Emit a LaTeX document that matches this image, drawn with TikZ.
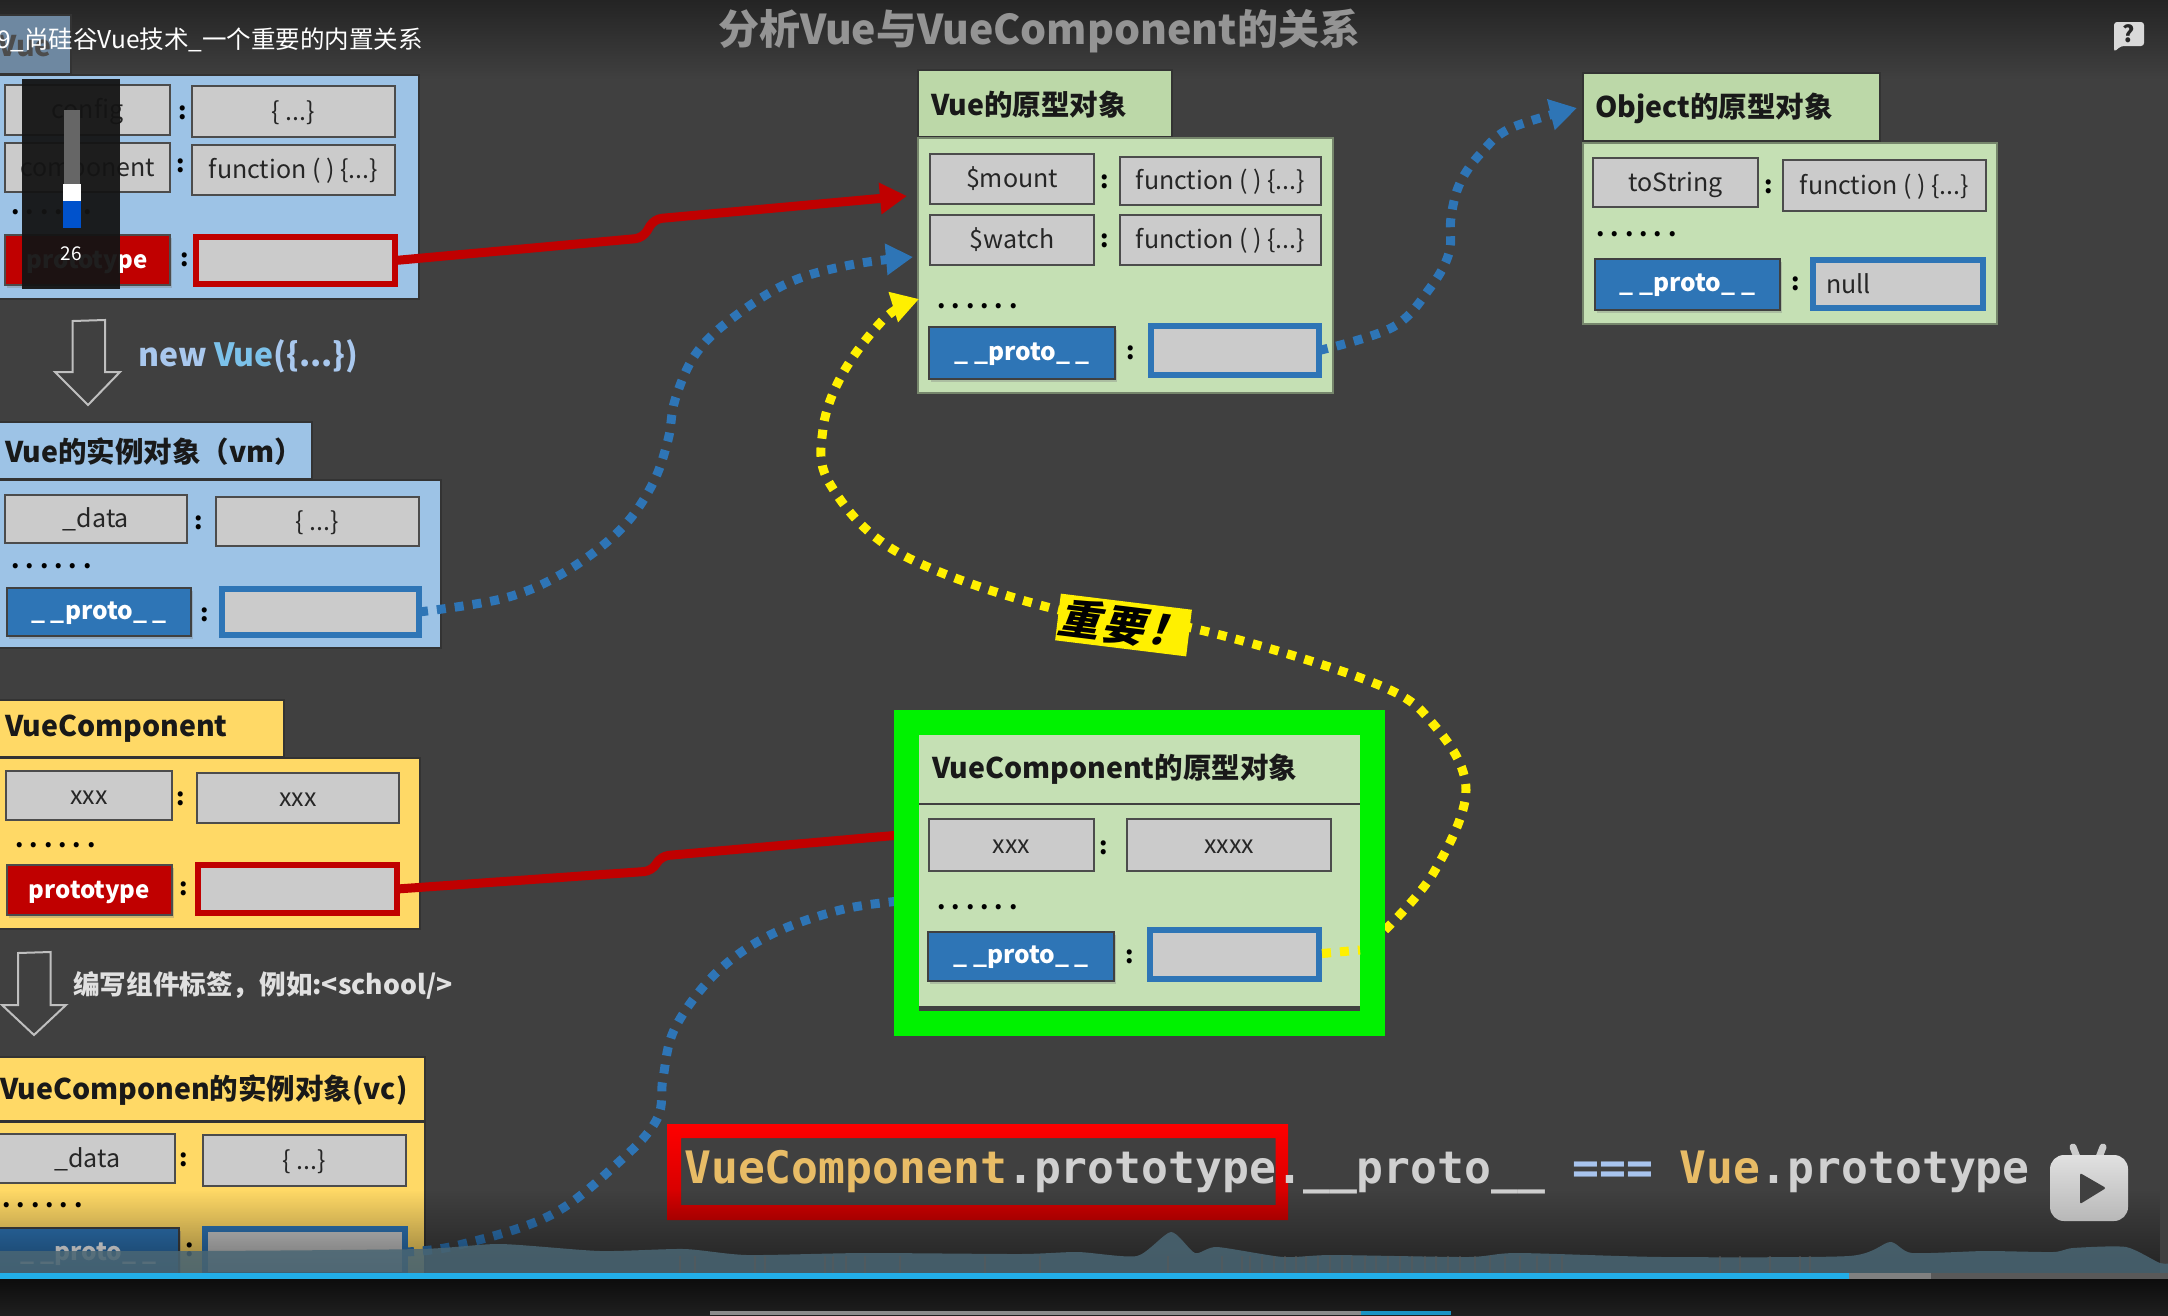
\documentclass[tikz,border=0pt]{standalone}
\usepackage{fontspec}
\setmainfont{Noto Sans CJK SC}
\newfontfamily\monof{DejaVu Sans Mono}
\newfontfamily\slantf[FakeSlant=0.25]{Noto Sans CJK SC}
\usetikzlibrary{arrows.meta,shadows,fadings,calc}
\definecolor{bgc}{HTML}{404040}
\definecolor{bluebody}{HTML}{9DC3E6}
\definecolor{yelbody}{HTML}{FFD966}
\definecolor{grnbody}{HTML}{C5E0B4}
\definecolor{grntab}{HTML}{BCD8A8}
\definecolor{boxg}{HTML}{CBCBCB}
\definecolor{redk}{HTML}{C00000}
\definecolor{bluek}{HTML}{2E75B6}
\definecolor{nvc}{HTML}{A9C8EE}
\definecolor{vvc}{HTML}{7CC2EA}
\definecolor{orgc}{HTML}{E8BC66}
\definecolor{txtg}{HTML}{D0D0D0}
\definecolor{eqc}{HTML}{A8C4EE}
\definecolor{wavec}{HTML}{4A6674}
\definecolor{progc}{HTML}{22AEE8}
\definecolor{yelc}{HTML}{FFF000}
\tikzset{
  x=1pt,y=-1pt,
  base/.style={rectangle,inner sep=0pt,outer sep=0pt},
  panel/.style={base,draw=black!80,line width=1.5pt},
  bluep/.style={panel,fill=bluebody},
  yelp/.style={panel,fill=yelbody},
  grnp/.style={panel,fill=grnbody,draw=grnbody!60!black},
  grntabp/.style={panel,fill=grntab},
  greybox/.style={base,fill=boxg,draw=black!70,line width=2pt,font=\fontsize{25}{28}\selectfont,text=black!85,text height=17pt,text depth=0pt},
  redkey/.style={base,fill=redk,draw=black!70,line width=2pt,text=white,font=\fontsize{24}{26}\selectfont\bfseries,text height=16pt,text depth=0pt,drop shadow={shadow xshift=2pt,shadow yshift=-3pt,opacity=.35}},
  bluekey/.style={base,fill=bluek,draw=black!75,line width=2pt,text=white,font=\fontsize{24.5}{26}\selectfont\bfseries,text height=14pt,text depth=0pt,drop shadow={shadow xshift=2pt,shadow yshift=-3pt,opacity=.35}},
  redval/.style={base,fill=boxg,draw=redk,line width=6pt},
  blueval/.style={base,fill=boxg,draw=bluek,line width=6pt},
  headtxt/.style={anchor=west,inner sep=0pt,font=\fontsize{28.5}{32}\selectfont\bfseries,text=black!90},
  colonn/.style={inner sep=0pt,yshift=-3pt,font=\fontsize{24}{26}\selectfont\bfseries,text=black},
  dotsn/.style={anchor=west,inner sep=0pt,yshift=-8pt,font=\fontsize{24}{26}\selectfont\bfseries,text=black},
  hollow/.style={draw=white!75!black,line width=2pt,fill=bgc,line join=miter},
  redline/.style={draw=redk,line width=9pt,line join=round},
  redarrow/.style={redline,-{Triangle[length=27pt,width=30pt]}},
  bluedot/.style={draw=bluek,line width=9pt,dash pattern=on 9pt off 9pt},
  bluearrow/.style={bluedot,-{Triangle[length=27pt,width=30pt]}},
  yeldot/.style={draw=yelc,line width=9pt,dash pattern=on 9pt off 9pt},
  yelarrow/.style={yeldot,-{Triangle[length=27pt,width=30pt]}},
}
\newcommand{\bx}[7]{%
  \pgfmathsetmacro{\bxw}{#4-#2}\pgfmathsetmacro{\bxh}{#5-#3}%
  \pgfmathsetmacro{\bxx}{(#4+#2)/2}\pgfmathsetmacro{\bxy}{(#5+#3)/2}%
  \node[#6,minimum width=\bxw pt,minimum height=\bxh pt] (#1) at (\bxx,\bxy) {#7};}
\newcommand{\sixdots}{.\kern6pt.\kern6pt.\kern6pt.\kern6pt.\kern6pt.}
\begin{document}
\begin{tikzpicture}
\useasboundingbox (0,0) rectangle (2168,1315);
\clip (0,0) rectangle (2168,1315);
% background
\fill[bgc] (0,0) rectangle (2168,1315);
\shade[top color=black!62!bgc!95!white,bottom color=bgc,shading angle=0] (0,0) rectangle (2168,80);

% connector ends
\coordinate (tipA) at (907,196);
\coordinate (tipB) at (913,257);
\coordinate (tipC) at (1577,108);
\coordinate (tipY) at (919,299);
\coordinate (endR) at (900,835);
\coordinate (endB) at (900,901);

% Vue function panel
\bx{vueTab}{-10}{15}{71}{74}{bluep,fill=bluebody!70!black}{}
\node[headtxt,anchor=east,text=black!70] (vueTabT) at (52,46) {Vue};
\bx{vueBody}{-10}{75}{419}{299}{bluep}{}
\bx{cfgK}{5}{85}{170}{135}{greybox}{config}
\bx{cfgV}{192}{86}{395}{137}{greybox}{\{ ...\}}
\bx{cmpK}{5}{143}{170}{192}{greybox}{component}
\bx{cmpV}{192}{145}{395}{195}{greybox}{function ( ) \{...\}}
\node[colonn] (c1) at (183,110) {:};
\node[colonn] (c2) at (181,163) {:};
\node[dotsn] (d1) at (11,204) {\sixdots};
\bx{protK}{5}{235}{170}{285}{redkey}{prototype}
\bx{protV}{196}{237}{395}{284}{redval}{}
\node[colonn] (c3) at (185,257) {:};

% Vue instance panel
\bx{vmTab}{-10}{422}{312}{479}{bluep}{}
\node[headtxt] (vmTabT) at (5,452) {Vue的实例对象（vm）};
\bx{vmBody}{-10}{480}{441}{648}{bluep}{}
\bx{dataK}{5}{495}{187}{543}{greybox}{\_data}
\bx{dataV}{216}{497}{419}{546}{greybox}{\{ ...\}}
\node[colonn] (c4) at (199,520) {:};
\node[dotsn] (d2) at (11,558) {\sixdots};
\bx{vmPK}{7}{588}{191}{636}{bluekey}{\_ \_proto\_ \_}
\bx{vmPV}{222}{589}{419}{635}{blueval}{}
\node[colonn] (c5) at (205,612) {:};

% VueComponent panel
\bx{vcfTab}{-10}{700}{284}{757}{yelp}{}
\node[headtxt] (vcfTabT) at (5,729) {VueComponent};
\bx{vcfBody}{-10}{758}{420}{929}{yelp}{}
\bx{xK}{6}{771}{172}{820}{greybox}{xxx}
\bx{xV}{197}{773}{399}{823}{greybox}{xxx}
\node[colonn] (c6) at (181,796) {:};
\node[dotsn] (d3) at (15,837) {\sixdots};
\bx{vcfPK}{7}{865}{172}{915}{redkey}{prototype}
\bx{vcfPV}{198}{865}{397}{913}{redval}{}
\node[colonn] (c7) at (184,886) {:};

% Vc instance panel
\bx{vcTab}{-10}{1057}{425}{1121}{yelp}{}
\node[headtxt] (vcTabT) at (0,1090) {VueComponen的实例对象(vc)};
\bx{vcBody}{-10}{1122}{425}{1285}{yelp}{}
\bx{vdK}{-10}{1134}{175}{1183}{greybox}{\kern10pt\_data}
\bx{vdV}{203}{1135}{406}{1186}{greybox}{\{ ...\}}
\node[colonn] (c8) at (184,1157) {:};
\node[dotsn] (d4) at (2,1197) {\sixdots};
\bx{vcPK}{-10}{1228}{179}{1278}{bluekey}{\kern8pt\_ \_proto\_ \_}
\bx{vcPV}{205}{1229}{405}{1275}{blueval}{}
\node[colonn] (c9) at (190,1247) {:};

% hollow arrows and captions
\draw[hollow] (72.5,321) -- (105,320) -- (105,372) -- (120,372) -- (88,405) -- (55,372) -- (72.5,372) -- cycle;
\node[anchor=west,inner sep=0pt,font=\fontsize{32}{34}\selectfont\bfseries] (newT) at (138,356)
  {{\color{nvc}new }{\color{vvc}Vue}{\color{nvc}(\{...\})}};
\draw[hollow] (18,953) -- (50.5,952) -- (50.5,1005) -- (66,1005) -- (34,1035) -- (2,1005) -- (18,1005) -- cycle;
\node[anchor=west,inner sep=0pt,font=\fontsize{26.6}{28}\selectfont\bfseries,text=white!88!black] (tagT) at (73,985) {编写组件标签，例如:<school/>};

% Vue prototype panel
\bx{vpTab}{918}{70}{1172}{137}{grntabp}{}
\node[headtxt] (vpTabT) at (931,105) {Vue的原型对象};
\bx{vpBody}{918}{138}{1333}{393}{grnp}{}
\bx{mntK}{930}{154}{1094}{204}{greybox}{\$mount}
\bx{mntV}{1120}{157}{1321}{205}{greybox}{function ( ) \{...\}}
\bx{wchK}{930}{215}{1094}{265}{greybox}{\$watch}
\bx{wchV}{1120}{215}{1321}{265}{greybox}{function ( ) \{...\}}
\node[colonn] (c10) at (1104.5,179) {:};
\node[colonn] (c11) at (1104.5,238) {:};
\node[dotsn] (d5) at (937,298) {\sixdots};
\bx{vpPK}{929}{327}{1115}{379}{bluekey}{\_ \_proto\_ \_}
\bx{vpPV}{1151}{326}{1319}{375}{blueval}{}
\node[colonn] (c12) at (1131,350) {:};

% Object prototype panel
\bx{opTab}{1583}{73}{1880}{141}{grntabp}{}
\node[headtxt] (opTabT) at (1595,108) {Object的原型对象};
\bx{opBody}{1583}{143}{1997}{324}{grnp}{}
\bx{tsK}{1593}{158}{1758}{207}{greybox}{toString}
\bx{tsV}{1783}{160}{1986}{211}{greybox}{function ( ) \{...\}}
\node[colonn] (c13) at (1768.5,184) {:};
\node[dotsn] (d6) at (1596,226) {\sixdots};
\bx{opPK}{1595}{259}{1780}{310}{bluekey}{\_ \_proto\_ \_}
\bx{opPV}{1813}{260}{1983}{308}{blueval}{}
\node[anchor=west,inner sep=0pt,font=\fontsize{25}{28}\selectfont,text=black!85] (nullT) at (1826,284) {null};
\node[colonn] (c14) at (1796,281) {:};

% long connectors
\draw[redarrow,rounded corners=8pt] (protV.east) -- (643,238) -- (654,219) -- (tipA);
\draw[redline,rounded corners=8pt] (vcfPV.east) -- (652,871) -- (661,856) -- (endR);
\draw[bluearrow] plot[smooth,tension=.6] coordinates {(vmPV.east) (505,598) (565,572) (620,530) (652,485) (668,440) (675,400) (695,355) (730,320) (788,283) (850,265) (tipB)};
\draw[bluedot] plot[smooth,tension=.6] coordinates {(vcPV.east) (459,1245) (551,1215) (620,1161) (657,1119) (663,1078) (675,1028) (716,973) (770,935) (840,910) (endB)};
\draw[bluearrow] plot[smooth,tension=.6] coordinates {(vpPV.east) (1393,327) (1430,288) (1449,253) (1451,217) (1460,183) (1481,153) (1511,128) (tipC)};
\coordinate (yStart) at (1385,930);
\draw[yelarrow] plot[smooth,tension=.6] coordinates {(yStart) (1434,872) (1466,790) (1434,725) (1374,683) (1196,629) (1051,608) (899,553) (830,484) (823,429) (843,373) (885,318) (tipY)};

% green highlighted panel
\bx{gFrame}{894}{710}{1385}{1036}{base,fill=green!95!black}{}
\bx{gBody}{919}{735}{1360}{1006}{base,fill=grnbody}{}
\fill[black!75] (gBody.south west) rectangle ([yshift=-5pt]gBody.south east);
\draw[black!75,line width=2pt] (919,804) -- (1360,804);
\node[headtxt] (gT) at (932,769) {VueComponent的原型对象};
\bx{gxK}{929}{819}{1094}{871}{greybox}{xxx}
\bx{gxV}{1127}{819}{1331}{871}{greybox}{xxxx}
\node[colonn] (c15) at (1104,845) {:};
\node[dotsn] (d7) at (937,899) {\sixdots};
\bx{gPK}{928}{932}{1114}{981}{bluekey}{\_ \_proto\_ \_}
\bx{gPV}{1150}{930}{1319}{979}{blueval}{}
\node[colonn] (c16) at (1130,954) {:};
\draw[yeldot] (gPV.east) ++(3,-1) -- (1360,950);

% label on the yellow connector
\node[base,fill=yelc,minimum width=132pt,minimum height=47pt,rotate=-7,font=\slantf\fontsize{42}{44}\selectfont\bfseries] (imp) at (1123.5,625) {重\kern3pt 要\kern3pt ！};

% formula
\shade[top color=red,bottom color=red!78!black,even odd rule] (667,1124) rectangle (1288,1220) (681,1138) rectangle (1275.5,1205);
\node[anchor=west,inner sep=0pt,font=\monof\bfseries\fontsize{44.7}{46}\selectfont] (formula) at (684,1172)
  {{\color{orgc}VueComponent}{\color{txtg}.prototype.\_\_proto\_\_} {\color{eqc}===} {\color{orgc}Vue}{\color{txtg}.prototype}};

% video player chrome
\node[anchor=center,inner sep=0pt,font=\fontsize{41}{43}\selectfont\bfseries,text=white!58!black] (mainT) at (1039,31) {分析Vue与VueComponent的关系};
\node[anchor=west,inner sep=0pt,font=\fontsize{24.5}{26}\selectfont,text=white] (vidT) at (-3,40) {9\_尚硅谷Vue技术\_一个重要的内置关系};
% bottom dimming
\fill[black,path fading=north,fill opacity=.45] (0,1190) rectangle (2168,1273);
% waveform
\fill[wavec,fill opacity=.85] plot[smooth,tension=.4] coordinates {(-5,1251) (200,1251) (420,1249) (500,1244) (600,1251) (684,1249) (747,1255) (864,1253) (1020,1254) (1078,1252) (1137,1256) (1171,1232) (1195,1253) (1217,1247) (1283,1257) (1332,1255) (1468,1257) (1517,1253) (1663,1257) (1849,1256) (1890,1242) (1912,1253) (1985,1251) (2053,1252) (2073,1248) (2126,1247) (2160,1263) (2175,1263)} -- (2175,1274) -- (-5,1274) -- cycle;
\foreach \sx in {680,695,755,765,825,833,846,865,900,985,1040,1168,1222,1242,1250,1262,1274,1285,1296,1306,1318,1330,1342,1352,1365,1376,1388,1400,1412,1425,1436,1448,1460,1475,1490,1505,1520,1537,1550,1562,1720,1740,1770,1800,1810}
  \draw[black!65,line width=1.5pt,opacity=.55] (\sx,1256) -- (\sx,1273);
\fill[white!35!black] (1849,1273) rectangle (2168,1279);
\fill[white!50!black] (1849,1273) rectangle (1931,1279);
\fill[progc] (0,1273) rectangle (1849,1279);
\shade[top color=black!95,bottom color=black!88] (0,1279) rectangle (2168,1315);
\fill[white!55!black] (710,1311) rectangle (1361,1315);
\fill[progc!85!black] (1361,1311) rectangle (1451,1315);
% play logo
\draw[white!80!black,line width=7pt,line cap=round] (2073,1147) -- (2078,1160);
\draw[white!80!black,line width=7pt,line cap=round] (2103,1147) -- (2098,1160);
\shade[top color=white!88!black,bottom color=white!72!black,rounded corners=14pt] (2050,1155) rectangle (2128,1221);
\fill[black!75,rounded corners=2pt] (2080,1173) -- (2106,1188) -- (2080,1204) -- cycle;
% question bubble
\fill[white!85!black,rounded corners=3pt] (2114,22) -- (2144,22) -- (2144,46) -- (2121,46) -- (2114,52) -- cycle;
\node[inner sep=0pt,font=\fontsize{23}{25}\selectfont\bfseries,text=black!85] (qmark) at (2129,34) {?};
% volume overlay
\fill[black!92,fill opacity=.95] (22,79) rectangle (120,289);
\fill[white!40!black] (64,110) rectangle (80,184);
\fill[white] (63,184) rectangle (81,201);
\fill[blue!60!cyan!80!black] (63,201) rectangle (81,228);
\node[inner sep=0pt,text=white,font=\fontsize{19}{21}\selectfont] (volT) at (71,254) {26};
\end{tikzpicture}
\end{document}
